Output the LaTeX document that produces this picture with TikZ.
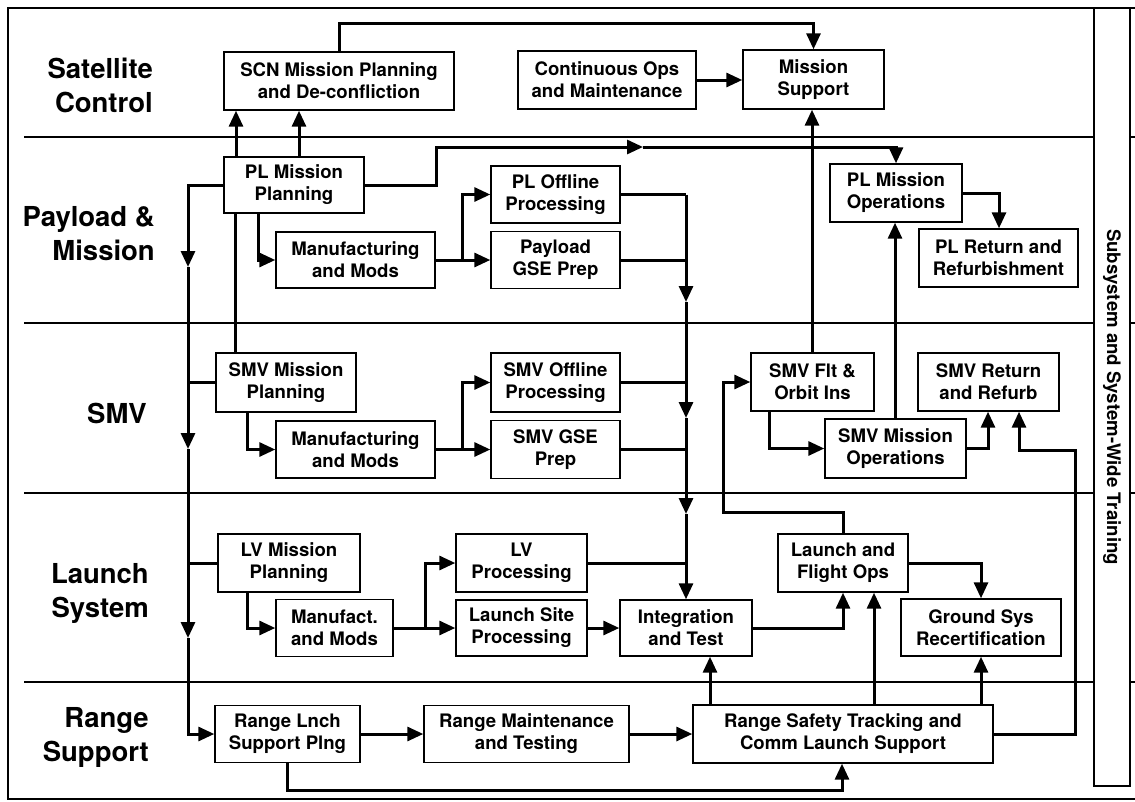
\documentclass[tikz,border=0pt]{standalone}
\usepackage{fontspec}
\setmainfont{TeX Gyre Heros}
\usetikzlibrary{arrows.meta}
\begin{document}
\begin{tikzpicture}[x=1pt,y=-1pt,
  box/.style={draw, line width=1.4pt, inner sep=0pt, align=center, fill=white,
    font=\bfseries\fontsize{18.6}{22}\selectfont},
  lane/.style={anchor=east, align=right, inner sep=0pt,
    font=\bfseries\fontsize{27.5}{34}\selectfont},
  conn/.style={line width=3pt, -{Triangle[length=16pt,width=14pt]}},
  wire/.style={line width=3pt},
  sep/.style={line width=1.2pt},
]
\useasboundingbox (0,0) rectangle (1135,801);

% frame, lanes, training column
\draw[line width=2pt] (1135,8) -- (8,8) -- (8,799) -- (1135,799);
\foreach \yy in {137,323,493,682} {
  \draw[sep] (24,\yy) -- (1094,\yy);
  \draw[sep] (1130,\yy) -- (1135,\yy);
}
\draw[line width=1.3pt] (1094,8) rectangle (1130,786);
\node[rotate=-90, inner sep=0pt, font=\bfseries\fontsize{18.6}{22}\selectfont] (train) at (1112,397) {Subsystem and System-Wide Training};

% lane labels
\node[lane] (lsat) at (153,85) {Satellite\\Control};
\node[lane] (lpay) at (155,234) {Payload \&\\Mission};
\node[lane] (lsmv) at (147,413) {SMV};
\node[lane] (llau) at (149,593) {Launch\\System};
\node[lane] (lran) at (149,737) {Range\\Support};

% boxes
\node[box, minimum width=230pt, minimum height=58pt] (scn) at (339,81) {SCN Mission Planning\\and De-confliction};
\node[box, minimum width=178pt, minimum height=58pt] (cont) at (607,80) {Continuous Ops\\and Maintenance};
\node[box, minimum width=141pt, minimum height=59pt] (msup) at (813.5,79.5) {Mission\\Support};

\node[box, minimum width=140pt, minimum height=56pt] (plmp) at (294,185) {PL Mission\\Planning};
\node[box, minimum width=159pt, minimum height=56pt] (plmfg) at (355.5,260) {Manufacturing\\and Mods};
\node[box, minimum width=129pt, minimum height=57pt] (ploff) at (555.5,194.5) {PL Offline\\Processing};
\node[box, minimum width=129pt, minimum height=57pt] (plgse) at (555.5,260) {Payload\\GSE Prep};
\node[box, minimum width=132pt, minimum height=58pt] (plmo) at (896,193) {PL Mission\\Operations};
\node[box, minimum width=159pt, minimum height=58pt] (plret) at (998.5,258) {PL Return and\\Refurbishment};

\node[box, minimum width=140pt, minimum height=59pt] (smvmp) at (286,382.5) {SMV Mission\\Planning};
\node[box, minimum width=159pt, minimum height=57pt] (smvmfg) at (355.5,449.5) {Manufacturing\\and Mods};
\node[box, minimum width=129pt, minimum height=59pt] (smvoff) at (555.5,382.5) {SMV Offline\\Processing};
\node[box, minimum width=129pt, minimum height=58pt] (smvgse) at (555.5,449.5) {SMV GSE\\Prep};
\node[box, minimum width=123pt, minimum height=58pt] (smvflt) at (812.5,382) {SMV Flt \&\\Orbit Ins};
\node[box, minimum width=141pt, minimum height=58pt] (smvret) at (988.5,382) {SMV Return\\and Refurb};
\node[box, minimum width=141pt, minimum height=59pt] (smvmo) at (895.5,448.5) {SMV Mission\\Operations};

\node[box, minimum width=142pt, minimum height=58pt] (lvmp) at (289,563) {LV Mission\\Planning};
\node[box, minimum width=117pt, minimum height=57pt] (lvmfg) at (334.5,628) {Manufact.\\and Mods};
\node[box, minimum width=131pt, minimum height=58pt] (lvproc) at (521.5,563) {LV\\Processing};
\node[box, minimum width=131pt, minimum height=56pt] (lsp) at (521.5,628) {Launch Site\\Processing};
\node[box, minimum width=132pt, minimum height=56pt] (intg) at (686,628) {Integration\\and Test};
\node[box, minimum width=130pt, minimum height=58pt] (lfo) at (843,563) {Launch and\\Flight Ops};
\node[box, minimum width=160pt, minimum height=57pt] (gsr) at (981,627.5) {Ground Sys\\Recertification};

\node[box, minimum width=145pt, minimum height=57pt] (rlsp) at (287.5,734) {Range Lnch\\Support Plng};
\node[box, minimum width=205pt, minimum height=57pt] (rmt) at (526.5,734) {Range Maintenance\\and Testing};
\node[box, minimum width=300pt, minimum height=58pt] (rst) at (843,734) {Range Safety Tracking and\\Comm Launch Support};

% coordinates for bends and mid-arrow points
\coordinate (ta) at (339,23);
\coordinate (tb) at (813.5,23);
\coordinate (d1) at (436,185);
\coordinate (d2) at (436,147);
\coordinate (d3) at (643,147);
\coordinate (d4) at (896,147);
\coordinate (b0) at (188,185);
\coordinate (b1) at (188,267);
\coordinate (b2) at (188,449);
\coordinate (b3) at (188,638);
\coordinate (b4) at (188,734);
\coordinate (g1) at (258,260);
\coordinate (h1) at (462,260);
\coordinate (i0) at (686,194.5);
\coordinate (i1) at (686,302);
\coordinate (i2) at (686,418);
\coordinate (i3) at (686,514);
\coordinate (l1) at (999,193);
\coordinate (n1) at (462,449.5);
\coordinate (q1) at (1075,734);
\coordinate (q2) at (1075,450);
\coordinate (q3) at (1019,450);
\coordinate (r1) at (843,512);
\coordinate (r2) at (723,512);
\coordinate (r3) at (723,382);
\coordinate (t1) at (425,628);
\coordinate (c1) at (287,790);
\coordinate (c2) at (842,790);

% satellite control
\draw[conn] (scn.north) -- (ta) -- (tb) -- (msup.north);
\draw[conn] (cont.east) -- (msup.west |- cont.east);
\draw[conn] (plmp.north -| 236,0) -- (scn.south -| 236,0);
\draw[conn] (plmp.north -| 299,0) -- (scn.south -| 299,0);

% payload
\draw[conn] (plmp.east) -- (d1) -- (d2) -- (d3);
\draw[conn] (d3) -- (d4) -- (plmo.north);
\draw[conn] (plmp.south -| g1) -- (g1) -- (plmfg.west);
\draw[wire] (plmfg.east) -- (h1);
\draw[conn] (h1) |- (ploff.west);
\draw[conn] (h1) -- (plgse.west);
\draw[conn] (plmo.east) -- (l1) -- (plret.north -| l1);

% left bus
\draw[conn] (plmp.west) -- (b0) -- (b1);
\draw[conn] (b1) -- (b2);
\draw[conn] (b2) -- (b3);
\draw[conn] (b3) -- (b4) -- (rlsp.west);
\draw[wire] (smvmp.west) -- (smvmp.west -| b0);
\draw[wire] (lvmp.west) -- (lvmp.west -| b0);
\draw[wire] (smvmp.north -| 235,0) -- (plmp.south -| 235,0);

% processing bus to integration
\draw[wire] (ploff.east) -- (i0);
\draw[conn] (i0) -- (i1);
\draw[conn] (i1) -- (i2);
\draw[conn] (i2) -- (i3);
\draw[conn] (i3) -- (intg.north);
\draw[wire] (plgse.east) -- (plgse.east -| i0);
\draw[wire] (smvoff.east) -- (smvoff.east -| i0);
\draw[wire] (smvgse.east) -- (smvgse.east -| i0);
\draw[wire] (lvproc.east) -- (lvproc.east -| i0);

% SMV
\draw[conn] (smvmp.south -| 247,0) |- (smvmfg.west);
\draw[wire] (smvmfg.east) -- (n1);
\draw[conn] (n1) |- (smvoff.west);
\draw[conn] (n1) -- (smvgse.west);
\draw[conn] (smvflt.north -| 812,0) -- (msup.south -| 812,0);
\draw[conn] (smvmo.north -| 895,0) -- (plmo.south -| 895,0);
\draw[conn] (smvflt.south -| 769,0) |- (smvmo.west);
\draw[conn] (smvmo.east) -| (smvret.south -| 988,0);
\draw[conn] (rst.east) -- (q1) -- (q2) -- (q3) -- (smvret.south -| q3);
\draw[conn] (lfo.north) -- (r1) -- (r2) -- (r3) -- (smvflt.west);

% launch system
\draw[conn] (lvmp.south -| 247,0) |- (lvmfg.west);
\draw[wire] (lvmfg.east) -- (t1);
\draw[conn] (t1) |- (lvproc.west);
\draw[conn] (t1) -- (lsp.west);
\draw[conn] (lsp.east) -- (intg.west);
\draw[conn] (intg.east) -| (lfo.south);
\draw[conn] (rst.north -| 874,0) -- (lfo.south -| 874,0);
\draw[conn] (lfo.east) -| (gsr.north);
\draw[conn] (rst.north -| 981,0) -- (gsr.south);
\draw[conn] (rst.north -| 710,0) -- (intg.south -| 710,0);

% range support
\draw[conn] (rlsp.east) -- (rmt.west);
\draw[conn] (rmt.east) -- (rst.west);
\draw[conn] (rlsp.south -| c1) -- (c1) -- (c2) -- (rst.south -| c2);
\end{tikzpicture}
\end{document}
